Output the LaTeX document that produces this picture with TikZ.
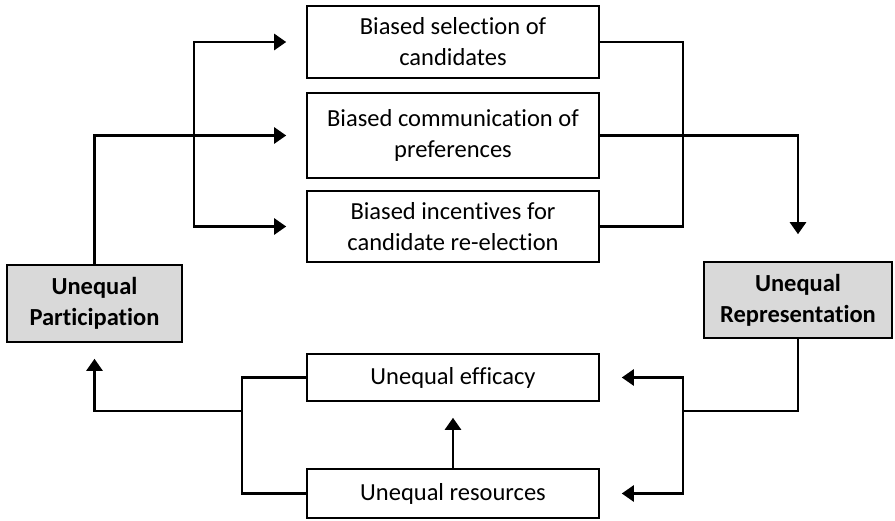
\documentclass[tikz,border=0pt]{standalone}
\usepackage{fontspec}
\setmainfont[Ligatures=NoCommon]{Carlito}
\usetikzlibrary{arrows.meta}

\tikzset{
  box/.style={draw, line width=1.6pt, align=center, inner sep=0pt,
    font=\fontsize{24.5}{31}\selectfont},
  keybox/.style={box, fill=black!15, font=\bfseries\fontsize{24.5}{31}\selectfont},
  arr/.style={-{Triangle[length=12pt,width=16pt]}},
}

\begin{document}
\begin{tikzpicture}[x=1pt,y=-1pt,line width=2.6pt]
\useasboundingbox (0,0) rectangle (895,521);

\node[box, minimum width=292pt, minimum height=72pt] (sel) at (453,42) {Biased selection of\\candidates};
\node[box, minimum width=292pt, minimum height=85pt] (com) at (453,135.5) {Biased communication of\\preferences};
\node[box, minimum width=292pt, minimum height=71pt] (inc) at (453,226.5) {Biased incentives for\\candidate re-election};

\node[keybox, minimum width=175pt, minimum height=77pt] (part) at (94.5,303.5) {Unequal\\Participation};
\node[keybox, minimum width=188pt, minimum height=76pt] (repr) at (798,300) {Unequal\\Representation};

\node[box, minimum width=292pt, minimum height=47pt] (eff) at (453,377.5) {Unequal efficacy};
\node[box, minimum width=292pt, minimum height=49pt] (res) at (453,493.5) {Unequal resources};

\coordinate (jl) at (194,0);
\coordinate (jr) at (683,0);
\coordinate (jb) at (242,411);

% participation to the three biases
\draw[arr, shorten >=20pt] (part.north) |- (com.west);
\draw[arr, shorten >=20pt] (jl |- com.west) |- (sel.west);
\draw[arr, shorten >=20pt] (jl |- com.west) |- (inc.west);

% biases to representation
\draw (sel.east) -| (jr |- inc.east) -- (inc.east);
\draw[arr, shorten >=27pt] (com.east) -| (repr.north);

% representation back to efficacy and resources
\draw (repr.south) |- (jr |- jb);
\draw[arr, shorten >=22pt] (jr |- jb) |- (eff.east);
\draw[arr, shorten >=22pt] (jr |- jb) |- (res.east);

% efficacy and resources to participation
\draw (eff.west) -| (jb |- res.west) -- (res.west);
\draw[arr, shorten >=16pt] (jb) -| (part.south);
\draw[arr, shorten >=16pt] (res.north) -- (eff.south);
\end{tikzpicture}
\end{document}
